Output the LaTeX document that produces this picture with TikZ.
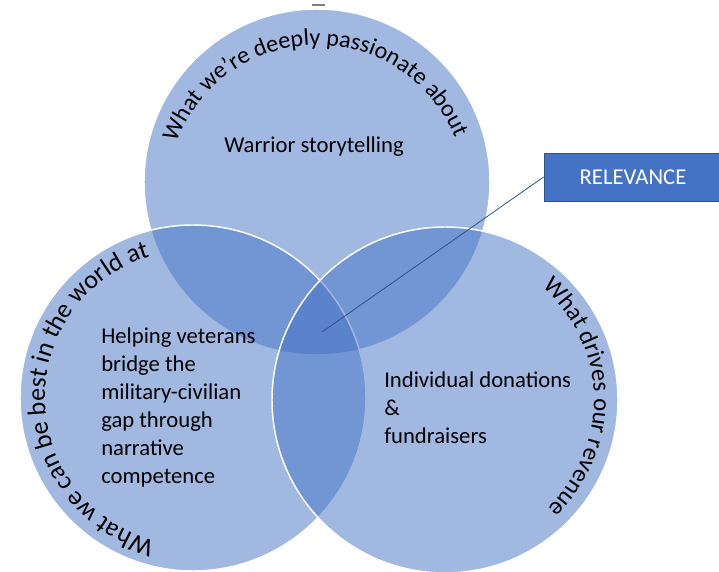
\documentclass[tikz,border=0pt]{standalone}
\usepackage{fontspec}
\setmainfont{Carlito}
\usetikzlibrary{decorations.text}

\definecolor{accent}{HTML}{4472C4}
\definecolor{accentdark}{HTML}{2F528F}

\begin{document}
\begin{tikzpicture}
    [
        x=0.75pt, y=0.75pt,
        set/.style={circle, draw=white, line width=1.1pt, fill=accent, fill opacity=0.5, minimum size=259.5pt, inner sep=0pt,},
        blurb/.style={font=\fontsize{17}{21}\selectfont, align=left, inner sep=0pt,},
        rim/.style 2 args={decorate, decoration={text along path, text align=center, text={|\fontsize{#1}{#1}\selectfont|#2}},},
        callout/.style={rectangle, fill=accent, draw=accentdark, line width=0.5pt, text=white, minimum width=133.5pt, minimum height=36pt, font=\fontsize{17}{20}\selectfont,},
        pointer/.style={draw=accentdark, line width=0.6pt,},
    ]
    \useasboundingbox (0,0) rectangle (719,572);

    % the three sets
    \node (passion) at (317,390) [set] {};
    \node (best)    at (193,174) [set] {};
    \node (revenue) at (445,172) [set] {};

    % curved headings
    \path [rim={18}{What we’re deeply passionate about}] (317,378) ++(160:149) arc[start angle=160, end angle=22, radius=149];
    \path [rim={19.5}{What we can be best in the world at}] (193,174) ++(256:148) arc[start angle=256, end angle=106, radius=148];
    \path [rim={18.5}{What drives our revenue}] (445,172) ++(54:149) arc[start angle=54, end angle=-51, radius=149];

    % contents
    \node (story) at (314,425) [blurb] {Warrior storytelling};
    \node (help)  at (101,165) [blurb, anchor=west] {Helping veterans\\bridge the\\military-civilian\\gap through\\narrative\\competence};
    \node (money) at (384,164) [blurb, anchor=west] {Individual donations\\\&\\fundraisers};

    % callout
    \node (rel) at (633,395) [callout] {RELEVANCE};
    \coordinate (core) at (322,240);
    \draw [pointer] (core) -- (rel.west);

    \draw [gray, line width=0.9pt] (312,567) -- (325,567);

\end{tikzpicture}
\end{document}
